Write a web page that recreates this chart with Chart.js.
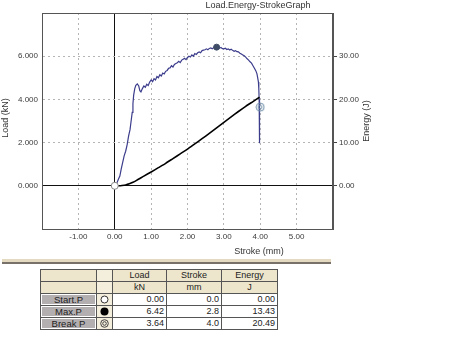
<!DOCTYPE html>
<html>
<head>
<meta charset="utf-8">
<script src="https://cdn.jsdelivr.net/npm/chart.js@4.4.0/dist/chart.umd.min.js"></script>
<style>
  body { margin: 0; background: #fff; font-family: "Liberation Sans", Arial, sans-serif; }
  #wrap { position: relative; width: 470px; height: 350px; }
  #graph { position: absolute; left: 0; top: 0; }
  .bar { position: absolute; left: 2px; top: 259px; width: 329px; height: 3px;
         background: #e4dac2; border-bottom: 2px solid #77716a; }
  table.res { position: absolute; left: 40px; top: 269px; border-collapse: collapse;
              table-layout: fixed; width: 237px; font-size: 9px; color: #222; }
  table.res td { border: 1px solid #555; height: 11px; padding: 0 2px; line-height: 11px;
                 overflow: hidden; white-space: nowrap; box-sizing: border-box; }
  td.hd { background: #eee6cc; text-align: center; }
  td.mk { background: #f4eedc; text-align: center; padding: 0 !important; }
  td.num { background: #fff; text-align: right; }
  td.nm { background: #fff; padding: 1px !important; }
  td.nm div { background: #b3aeb0; text-align: center; height: 9px; line-height: 9px; font-size: 9.5px; }
  svg { display: block; margin: 0 auto; }
</style>
</head>
<body>
<div id="wrap">
  <canvas id="graph" width="470" height="258"></canvas>
  <div class="bar"></div>
  <table class="res" id="res"></table>
</div>
<script>
// load curve (kN) against stroke (mm)
const loadStroke = [0.00, 0.05, 0.10, 0.14, 0.18, 0.22, 0.26, 0.30, 0.34, 0.38, 0.42, 0.45, 0.48, 0.50, 0.52, 0.55,
  0.58, 0.62, 0.66, 0.69, 0.72, 0.76, 0.80, 0.84, 0.88, 0.92, 0.96, 1.00, 1.04, 1.08, 1.12, 1.16, 1.20, 1.24, 1.28,
  1.32, 1.36, 1.40, 1.44, 1.48, 1.52, 1.56, 1.60, 1.64, 1.68, 1.72, 1.76, 1.80, 1.84, 1.88, 1.92, 1.96, 2.00, 2.04,
  2.08, 2.12, 2.16, 2.20, 2.24, 2.28, 2.32, 2.36, 2.40, 2.44, 2.48, 2.52, 2.56, 2.60, 2.64, 2.68, 2.72, 2.76, 2.80,
  2.84, 2.88, 2.92, 2.96, 3.00, 3.04, 3.08, 3.12, 3.16, 3.20, 3.24, 3.28, 3.32, 3.36, 3.40, 3.44, 3.48, 3.52, 3.56,
  3.60, 3.64, 3.68, 3.72, 3.76, 3.80, 3.84, 3.88, 3.91, 3.93, 3.95, 3.96, 3.97, 3.98, 3.98, 3.98];
const loadKN = [0.00, 0.10, 0.30, 0.45, 0.80, 1.10, 1.40, 1.60, 1.90, 2.30, 2.60, 3.00, 3.40, 3.80, 4.20, 4.50,
  4.65, 4.72, 4.62, 4.40, 4.35, 4.50, 4.62, 4.56, 4.70, 4.64, 4.80, 4.90, 4.82, 4.96, 4.90, 5.06, 5.00, 5.14, 5.08,
  5.22, 5.18, 5.30, 5.34, 5.44, 5.46, 5.56, 5.50, 5.62, 5.66, 5.70, 5.76, 5.70, 5.82, 5.86, 5.90, 5.84, 5.94, 6.00,
  5.96, 6.06, 6.00, 6.12, 6.08, 6.16, 6.20, 6.16, 6.26, 6.28, 6.30, 6.34, 6.30, 6.36, 6.38, 6.34, 6.40, 6.41, 6.42,
  6.40, 6.37, 6.40, 6.35, 6.34, 6.37, 6.31, 6.34, 6.29, 6.32, 6.27, 6.23, 6.26, 6.21, 6.20, 6.14, 6.10, 6.06, 6.02,
  5.96, 5.88, 5.82, 5.74, 5.68, 5.56, 5.44, 5.32, 5.18, 5.00, 4.80, 4.50, 4.00, 3.00, 2.40, 1.97];

// absorbed energy (J) against stroke (mm)
const energyStroke = [0.00, 0.10, 0.20, 0.30, 0.40, 0.50, 0.60, 0.70, 0.80, 1.00, 1.20, 1.40, 1.60, 1.80, 2.00,
  2.20, 2.40, 2.60, 2.80, 3.00, 3.20, 3.40, 3.60, 3.80, 3.98];
const energyJ = [0.00, 0.02, 0.08, 0.20, 0.45, 0.80, 1.25, 1.75, 2.25, 3.20, 4.20, 5.20, 6.30, 7.40, 8.50,
  9.70, 10.90, 12.15, 13.43, 14.70, 15.95, 17.20, 18.40, 19.50, 20.49];

// result points
const pointNames = ['Start.P', 'Max.P', 'Break P'];
const pointLoad = [0.00, 6.42, 3.64];
const pointStroke = [0.0, 2.8, 4.0];
const pointEnergy = [0.00, 13.43, 20.49];

const xTicks = [-1, 0, 1, 2, 3, 4, 5];
const loadTicks = [0, 2, 4, 6];
const energyTicks = [0, 10, 20, 30];

const tickFont = { family: '"Liberation Sans", Arial, sans-serif', size: 8 };
const tickColor = '#3a3a3a';

// break point marker: double ring
function ringMarker(size) {
  const c = document.createElement('canvas');
  c.width = size; c.height = size;
  const g = c.getContext('2d');
  g.strokeStyle = '#6f8fa8';
  g.lineWidth = 1;
  g.beginPath(); g.arc(size / 2, size / 2, size / 2 - 1, 0, Math.PI * 2); g.stroke();
  g.beginPath(); g.arc(size / 2, size / 2, size / 2 - 3.2, 0, Math.PI * 2); g.stroke();
  return c;
}

const gridDash = ctx => (ctx.tick && ctx.tick.value === 0) ? [] : [2, 3];
const gridColor = ctx => (ctx.tick && ctx.tick.value === 0) ? '#111' : '#b5b5b5';

const frame = {
  id: 'frame',
  afterDraw(chart) {
    const { ctx, chartArea: a } = chart;
    ctx.save();
    ctx.strokeStyle = '#555';
    ctx.lineWidth = 1;
    ctx.strokeRect(a.left + 0.5, a.top + 0.5, a.right - a.left - 1, a.bottom - a.top);
    ctx.fillStyle = '#333';
    ctx.font = '9px "Liberation Sans", Arial, sans-serif';
    ctx.textAlign = 'center';
    ctx.textBaseline = 'middle';
    ctx.fillText('Load.Energy-StrokeGraph', 258, 6);
    ctx.fillText('Stroke (mm)', 259, 252);
    ctx.translate(6, 118);
    ctx.rotate(-Math.PI / 2);
    ctx.fillText('Load (kN)', 0, 0);
    ctx.restore();
    ctx.save();
    ctx.fillStyle = '#333';
    ctx.font = '9px "Liberation Sans", Arial, sans-serif';
    ctx.textAlign = 'center';
    ctx.textBaseline = 'middle';
    ctx.translate(367, 121);
    ctx.rotate(-Math.PI / 2);
    ctx.fillText('Energy (J)', 0, 0);
    ctx.restore();
  }
};

const config = {
  type: 'line',
  data: {
    datasets: [
      {
        label: 'points',
        data: pointStroke.map((s, i) => ({ x: s, y: pointLoad[i] })),
        yAxisID: 'y',
        showLine: false,
        pointStyle: ['circle', 'circle', ringMarker(10)],
        pointRadius: [3.5, 3, 5],
        pointBackgroundColor: ['#fff', '#3e4c66', '#fff'],
        pointBorderColor: ['#8a8a8a', '#3e4c66', '#6f8fa8'],
        pointBorderWidth: 1,
        order: 0
      },
      {
        label: 'Energy',
        data: energyStroke.map((s, i) => ({ x: s, y: energyJ[i] })),
        yAxisID: 'y1',
        borderColor: '#000',
        borderWidth: 1.6,
        pointRadius: 0,
        tension: 0.2,
        order: 1
      },
      {
        label: 'Load',
        data: loadStroke.map((s, i) => ({ x: s, y: loadKN[i] })),
        yAxisID: 'y',
        borderColor: '#3c3c8c',
        borderWidth: 1.2,
        pointRadius: 0,
        tension: 0,
        order: 2
      }
    ]
  },
  options: {
    responsive: false,
    animation: false,
    devicePixelRatio: 1,
    layout: { padding: { top: 13 } },
    plugins: { legend: { display: false }, tooltip: { enabled: false } },
    scales: {
      x: {
        type: 'linear', min: -2, max: 6,
        afterBuildTicks: s => { s.ticks = [-2].concat(xTicks, [6]).map(v => ({ value: v })); },
        afterFit: s => { s.height = 29; },
        ticks: {
          font: tickFont, color: tickColor, padding: 3, maxRotation: 0,
          callback: v => xTicks.includes(v) ? v.toFixed(2) : ''
        },
        grid: { color: gridColor, drawTicks: false },
        border: { color: '#555', dash: gridDash }
      },
      y: {
        type: 'linear', position: 'left', min: -2, max: 8,
        afterBuildTicks: s => { s.ticks = [-2].concat(loadTicks, [8]).map(v => ({ value: v })); },
        afterFit: s => { s.width = 42; },
        ticks: {
          font: tickFont, color: tickColor, padding: 4,
          callback: v => loadTicks.includes(v) ? v.toFixed(3) : ''
        },
        grid: { color: gridColor, drawTicks: false },
        border: { color: '#555', dash: gridDash }
      },
      y1: {
        type: 'linear', position: 'right', min: -10, max: 40,
        afterBuildTicks: s => { s.ticks = energyTicks.map(v => ({ value: v })); },
        afterFit: s => { s.width = 137; },
        ticks: {
          font: tickFont, color: tickColor, padding: 2,
          callback: v => v.toFixed(2)
        },
        grid: { drawOnChartArea: false, tickLength: 4, tickColor: '#444' },
        border: { color: '#555' }
      }
    }
  },
  plugins: [frame]
};

new Chart(document.getElementById('graph'), config);

// result table under the graph
const icons = [
  '<svg width="9" height="9"><circle cx="4.5" cy="4.5" r="3.5" fill="#fff" stroke="#333"/></svg>',
  '<svg width="9" height="9"><circle cx="4.5" cy="4.5" r="4" fill="#000"/></svg>',
  '<svg width="9" height="9"><circle cx="4.5" cy="4.5" r="3.8" fill="none" stroke="#444"/><circle cx="4.5" cy="4.5" r="1.8" fill="none" stroke="#444"/></svg>'
];
let rows = '<colgroup><col style="width:56px"><col style="width:16px"><col style="width:54px"><col style="width:55px"><col style="width:56px"></colgroup>' +
  '<tr><td class="hd"></td><td class="mk"></td>' +
  '<td class="hd">Load</td><td class="hd">Stroke</td><td class="hd">Energy</td></tr>' +
  '<tr><td class="hd"></td><td class="mk"></td><td class="hd">kN</td><td class="hd">mm</td><td class="hd">J</td></tr>';
pointNames.forEach((n, i) => {
  rows += '<tr><td class="nm"><div>' + n + '</div></td><td class="mk">' + icons[i] + '</td>' +
    '<td class="num">' + pointLoad[i].toFixed(2) + '</td>' +
    '<td class="num">' + pointStroke[i].toFixed(1) + '</td>' +
    '<td class="num">' + pointEnergy[i].toFixed(2) + '</td></tr>';
});
document.getElementById('res').innerHTML = rows;
</script>
</body>
</html>
